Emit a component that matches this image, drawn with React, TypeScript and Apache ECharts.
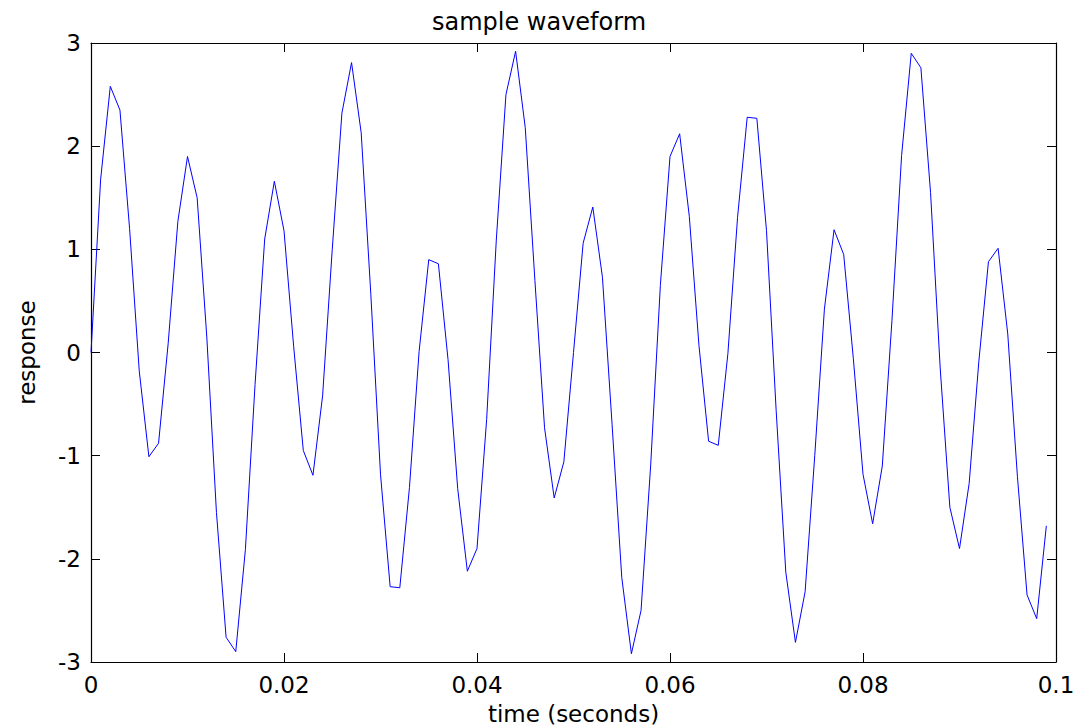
import React, { useEffect, useRef } from "react";
import * as echarts from "echarts";

const titleText = "sample waveform";
const xLabel = "time (seconds)";
const yLabel = "response";
const timeStep = 0.001;
const xTicks = { min: 0, max: 0.1, interval: 0.02 };
const yTicks = { min: -3, max: 3, interval: 1 };

const response: number[] = [
  0.0, 1.68, 2.58, 2.35, 1.2, -0.18, -1.01, -0.88, 0.09, 1.27,
  1.9, 1.5, 0.15, -1.55, -2.76, -2.9, -1.91, -0.31, 1.1, 1.66,
  1.18, 0.06, -0.95, -1.19, -0.42, 1.0, 2.32, 2.81, 2.13, 0.56,
  -1.18, -2.27, -2.28, -1.31, 0.01, 0.9, 0.86, -0.07, -1.32, -2.12,
  -1.9, -0.65, 1.09, 2.5, 2.92, 2.18, 0.7, -0.73, -1.41, -1.06,
  0.0, 1.06, 1.41, 0.73, -0.7, -2.18, -2.92, -2.5, -1.09, 0.65,
  1.9, 2.12, 1.32, 0.07, -0.86, -0.9, -0.01, 1.31, 2.28, 2.27,
  1.18, -0.56, -2.13, -2.81, -2.32, -1.0, 0.42, 1.19, 0.95, -0.06,
  -1.18, -1.66, -1.1, 0.31, 1.91, 2.9, 2.76, 1.55, -0.15, -1.5,
  -1.9, -1.27, -0.09, 0.88, 1.01, 0.18, -1.2, -2.35, -2.58, -1.68,
];

const FONT = "DejaVu Sans";

export default function App() {
  const ref = useRef<HTMLDivElement>(null);
  useEffect(() => {
    if (!ref.current) return;
    const chart = echarts.init(ref.current, undefined, { renderer: "svg" });
    const data = response.map((v, i) => [+(i * timeStep).toFixed(3), v]);
    const lineStyle = { color: "#000", width: 1.2 };
    const axisCommon = {
      type: "value" as const,
      splitLine: { show: false },
      axisLine: { show: true, onZero: false, lineStyle },
      axisTick: { show: true, inside: true, length: 9, lineStyle: { color: "#000", width: 1 } },
    };
    chart.setOption({
      animation: false,
      backgroundColor: "#fff",
      title: {
        text: titleText,
        left: "center",
        top: 5,
        textStyle: { fontFamily: FONT, fontSize: 24, fontWeight: "normal", color: "#000" },
      },
      grid: {
        left: 91,
        top: 43,
        right: 22,
        bottom: 66,
        containLabel: false,
        outerBoundsMode: "none",
      },
      xAxis: [
        {
          ...axisCommon,
          position: "bottom",
          min: xTicks.min,
          max: xTicks.max,
          interval: xTicks.interval,
          name: xLabel,
          nameLocation: "middle",
          nameGap: 40,
          nameTextStyle: { fontFamily: FONT, fontSize: 23, color: "#000" },
          axisLabel: {
            fontFamily: FONT,
            fontSize: 23,
            color: "#000",
            margin: 11,
            formatter: (v: number) => String(+v.toFixed(3)),
          },
        },
        {
          ...axisCommon,
          position: "top",
          min: xTicks.min,
          max: xTicks.max,
          interval: xTicks.interval,
          axisLabel: { show: false },
        },
      ],
      yAxis: [
        {
          ...axisCommon,
          position: "left",
          min: yTicks.min,
          max: yTicks.max,
          interval: yTicks.interval,
          name: yLabel,
          nameLocation: "middle",
          nameGap: 53,
          nameTextStyle: { fontFamily: FONT, fontSize: 23, color: "#000" },
          axisLabel: { fontFamily: FONT, fontSize: 23, color: "#000", margin: 10 },
        },
        {
          ...axisCommon,
          position: "right",
          min: yTicks.min,
          max: yTicks.max,
          interval: yTicks.interval,
          axisLabel: { show: false },
        },
      ],
      series: [
        {
          type: "line",
          data,
          xAxisIndex: 0,
          yAxisIndex: 0,
          showSymbol: false,
          symbol: "none",
          lineStyle: { color: "#0000ff", width: 1 },
          silent: true,
        },
      ],
    });
    return () => chart.dispose();
  }, []);
  return (
    <div
      ref={ref}
      style={{ position: "fixed", left: 0, top: 0, width: 1078, height: 728 }}
    />
  );
}
